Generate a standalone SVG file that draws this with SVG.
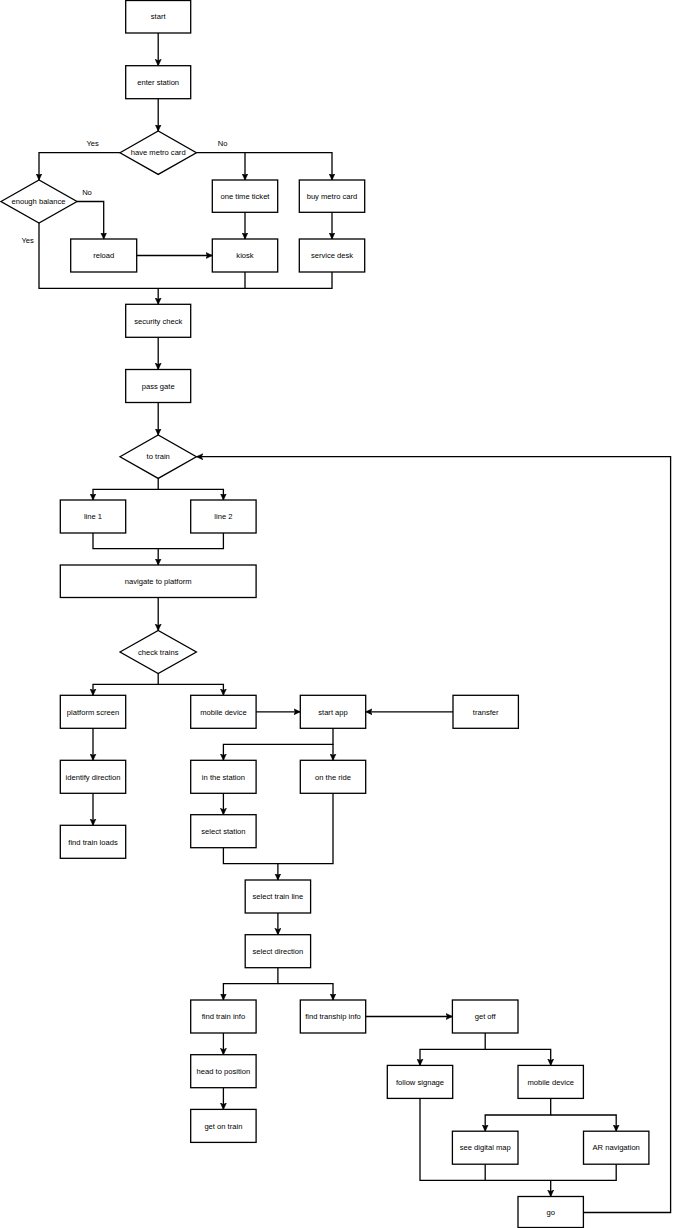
<svg xmlns="http://www.w3.org/2000/svg" width="673" height="1228" viewBox="0 0 673 1228">
<style>
.n rect, .n polygon { fill: #fff; stroke: #000; stroke-width: 1.3; }
.n text, .lbl { font-family: "Liberation Sans", Arial, Helvetica, sans-serif; font-size: 7.6px; fill: #000; text-anchor: middle; }
#connectors path { fill: none; stroke: #000; stroke-width: 1.3; }
.a { marker-end: url(#arr); }
</style>
<defs>
<marker id="arr" markerUnits="userSpaceOnUse" markerWidth="7" markerHeight="7" viewBox="0 0 7 7" refX="6.5" refY="3.5" orient="auto">
<path d="M0,0.5 L6.5,3.5 L0,6.5 L1.6,3.5 z" fill="#000" stroke="#000" stroke-width="0.6"/>
</marker>
</defs>
<rect width="673" height="1228" fill="#fff"/>

<g id="connectors">
<path class="a" d="M158.2,33 V65.7"/>
<path class="a" d="M158.2,98.7 V131"/>
<path class="a" d="M120,152.7 H39 V180"/>
<path class="a" d="M196.4,152.7 H245 V180"/>
<path class="a" d="M245,152.7 H332 V180"/>
<path class="a" d="M77,201.5 H103.7 V239"/>
<path d="M39,223 V288.3 H332 V272"/>
<path d="M245,272 V288.3"/>
<path class="a" d="M158.2,288.3 V304.3"/>
<path class="a" d="M136.7,255.5 H212.3"/>
<path class="a" d="M245,212.3 V239"/>
<path class="a" d="M332,212.3 V239"/>
<path class="a" d="M158.2,337.3 V369.5"/>
<path class="a" d="M158.2,402.5 V435"/>
<path class="a" d="M158.2,478.4 V489.3 H93 V500"/>
<path class="a" d="M158.2,489.3 H223.4 V500"/>
<path d="M93,533 V548.7 H223.4 V533"/>
<path class="a" d="M158.2,548.7 V565"/>
<path class="a" d="M158.2,597.5 V630.5"/>
<path class="a" d="M158.2,673.5 V684.3 H93 V695.3"/>
<path class="a" d="M158.2,684.3 H223.4 V695.3"/>
<path class="a" d="M256.1,711.8 H300.3"/>
<path class="a" d="M453,711.8 H365.7"/>
<path class="a" d="M333,728.3 V744.3 H223.4 V760.3"/>
<path class="a" d="M333,744.3 V760.3"/>
<path class="a" d="M93,728.3 V760.3"/>
<path class="a" d="M93,793.3 V825.3"/>
<path class="a" d="M223.4,793.3 V814.7"/>
<path d="M223.4,847.7 V863.7 H333 V793.3"/>
<path class="a" d="M277.9,863.7 V880"/>
<path class="a" d="M277.9,913 V934.7"/>
<path class="a" d="M277.9,967.7 V983.6 H223.4 V1000"/>
<path class="a" d="M277.9,983.6 H333 V1000"/>
<path class="a" d="M223.4,1033 V1054.7"/>
<path class="a" d="M223.4,1087.7 V1109.4"/>
<path class="a" d="M365.7,1016.5 H452.4"/>
<path class="a" d="M485.2,1033 V1049.3 H420 V1065.4"/>
<path class="a" d="M485.2,1049.3 H550.7 V1065.4"/>
<path class="a" d="M550.7,1098.4 V1115 H485.2 V1131.2"/>
<path class="a" d="M550.7,1115 H616.2 V1131.2"/>
<path d="M420,1098.4 V1180.4 H616.2 V1164.2"/>
<path d="M485.2,1164.2 V1180.4"/>
<path class="a" d="M550.7,1180.4 V1196.5"/>
<path class="a" d="M583.4,1212.5 H670.6 V456.7 H196.4"/>
</g>

<g id="labels">
<text class="lbl" x="92.7" y="145.7">Yes</text>
<text class="lbl" x="222.7" y="145.7">No</text>
<text class="lbl" x="87" y="194.7">No</text>
<text class="lbl" x="27.7" y="243.4">Yes</text>
</g>

<g id="start" class="n"><rect x="125.7" y="0.5" width="65" height="32.5"/><text x="158.2" y="19.4">start</text></g>
<g id="enter-station" class="n"><rect x="125.7" y="65.7" width="65" height="33"/><text x="158.2" y="84.9">enter station</text></g>
<g id="have-metro-card" class="n"><polygon points="120,152.7 158.2,131 196.4,152.7 158.2,174.4"/><text x="158.2" y="155.4">have metro card</text></g>
<g id="enough-balance" class="n"><polygon points="1,201.5 39,180 77,201.5 39,223"/><text x="38.5" y="204.2">enough balance</text></g>
<g id="one-time-ticket" class="n"><rect x="212.3" y="180" width="65.4" height="32.3"/><text x="245" y="198.9">one time ticket</text></g>
<g id="buy-metro-card" class="n"><rect x="299.3" y="180" width="65.4" height="32.3"/><text x="332" y="198.9">buy metro card</text></g>
<g id="reload" class="n"><rect x="70.7" y="239" width="66" height="33"/><text x="103.7" y="258.2">reload</text></g>
<g id="kiosk" class="n"><rect x="212.3" y="239" width="65.4" height="33"/><text x="245" y="258.2">kiosk</text></g>
<g id="service-desk" class="n"><rect x="299.3" y="239" width="65.4" height="33"/><text x="332" y="258.2">service desk</text></g>
<g id="security-check" class="n"><rect x="125.7" y="304.3" width="65" height="33"/><text x="158.2" y="323.5">security check</text></g>
<g id="pass-gate" class="n"><rect x="125.7" y="369.5" width="65" height="33"/><text x="158.2" y="388.7">pass gate</text></g>
<g id="to-train" class="n"><polygon points="120,456.7 158.2,435 196.4,456.7 158.2,478.4"/><text x="158.2" y="459.4">to train</text></g>
<g id="line-1" class="n"><rect x="60.3" y="500" width="65.4" height="33"/><text x="93" y="519.2">line 1</text></g>
<g id="line-2" class="n"><rect x="190.7" y="500" width="65.4" height="33"/><text x="223.4" y="519.2">line 2</text></g>
<g id="navigate-to-platform" class="n"><rect x="60.3" y="565" width="195.8" height="32.5"/><text x="158.2" y="583.9">navigate to platform</text></g>
<g id="check-trains" class="n"><polygon points="120,652 158.2,630.5 196.4,652 158.2,673.5"/><text x="158.2" y="654.7">check trains</text></g>
<g id="platform-screen" class="n"><rect x="60.3" y="695.3" width="65.4" height="33"/><text x="93" y="714.5">platform screen</text></g>
<g id="mobile-device" class="n"><rect x="190.7" y="695.3" width="65.4" height="33"/><text x="223.4" y="714.5">mobile device</text></g>
<g id="start-app" class="n"><rect x="300.3" y="695.3" width="65.4" height="33"/><text x="333" y="714.5">start app</text></g>
<g id="transfer" class="n"><rect x="453" y="695.3" width="65.4" height="33"/><text x="485.7" y="714.5">transfer</text></g>
<g id="identify-direction" class="n"><rect x="60.3" y="760.3" width="65.4" height="33"/><text x="93" y="779.5">identify direction</text></g>
<g id="in-the-station" class="n"><rect x="190.7" y="760.3" width="65.4" height="33"/><text x="223.4" y="779.5">in the station</text></g>
<g id="on-the-ride" class="n"><rect x="300.3" y="760.3" width="65.4" height="33"/><text x="333" y="779.5">on the ride</text></g>
<g id="select-station" class="n"><rect x="190.7" y="814.7" width="65.4" height="33"/><text x="223.4" y="833.9">select station</text></g>
<g id="find-train-loads" class="n"><rect x="60.3" y="825.3" width="65.4" height="33"/><text x="93" y="844.5">find train loads</text></g>
<g id="select-train-line" class="n"><rect x="245.2" y="880" width="65.4" height="33"/><text x="277.9" y="899.2">select train line</text></g>
<g id="select-direction" class="n"><rect x="245.2" y="934.7" width="65.4" height="33"/><text x="277.9" y="953.9">select direction</text></g>
<g id="find-train-info" class="n"><rect x="190.7" y="1000" width="65.4" height="33"/><text x="223.4" y="1019.2">find train info</text></g>
<g id="find-tranship-info" class="n"><rect x="300.3" y="1000" width="65.4" height="33"/><text x="333" y="1019.2">find tranship info</text></g>
<g id="get-off" class="n"><rect x="452.4" y="1000" width="65.6" height="33"/><text x="485.2" y="1019.2">get off</text></g>
<g id="head-to-position" class="n"><rect x="190.7" y="1054.7" width="65.4" height="33"/><text x="223.4" y="1073.9">head to position</text></g>
<g id="get-on-train" class="n"><rect x="190.7" y="1109.4" width="65.4" height="33"/><text x="223.4" y="1128.6">get on train</text></g>
<g id="follow-signage" class="n"><rect x="387.3" y="1065.4" width="65.4" height="33"/><text x="420" y="1084.6">follow signage</text></g>
<g id="mobile-device-2" class="n"><rect x="518" y="1065.4" width="65.4" height="33"/><text x="550.7" y="1084.6">mobile device</text></g>
<g id="see-digital-map" class="n"><rect x="452.4" y="1131.2" width="65.6" height="33"/><text x="485.2" y="1150.4">see digital map</text></g>
<g id="ar-navigation" class="n"><rect x="583.5" y="1131.2" width="65.4" height="33"/><text x="616.2" y="1150.4">AR navigation</text></g>
<g id="go" class="n"><rect x="518" y="1196.5" width="65.4" height="31"/><text x="550.7" y="1215">go</text></g>
</svg>
